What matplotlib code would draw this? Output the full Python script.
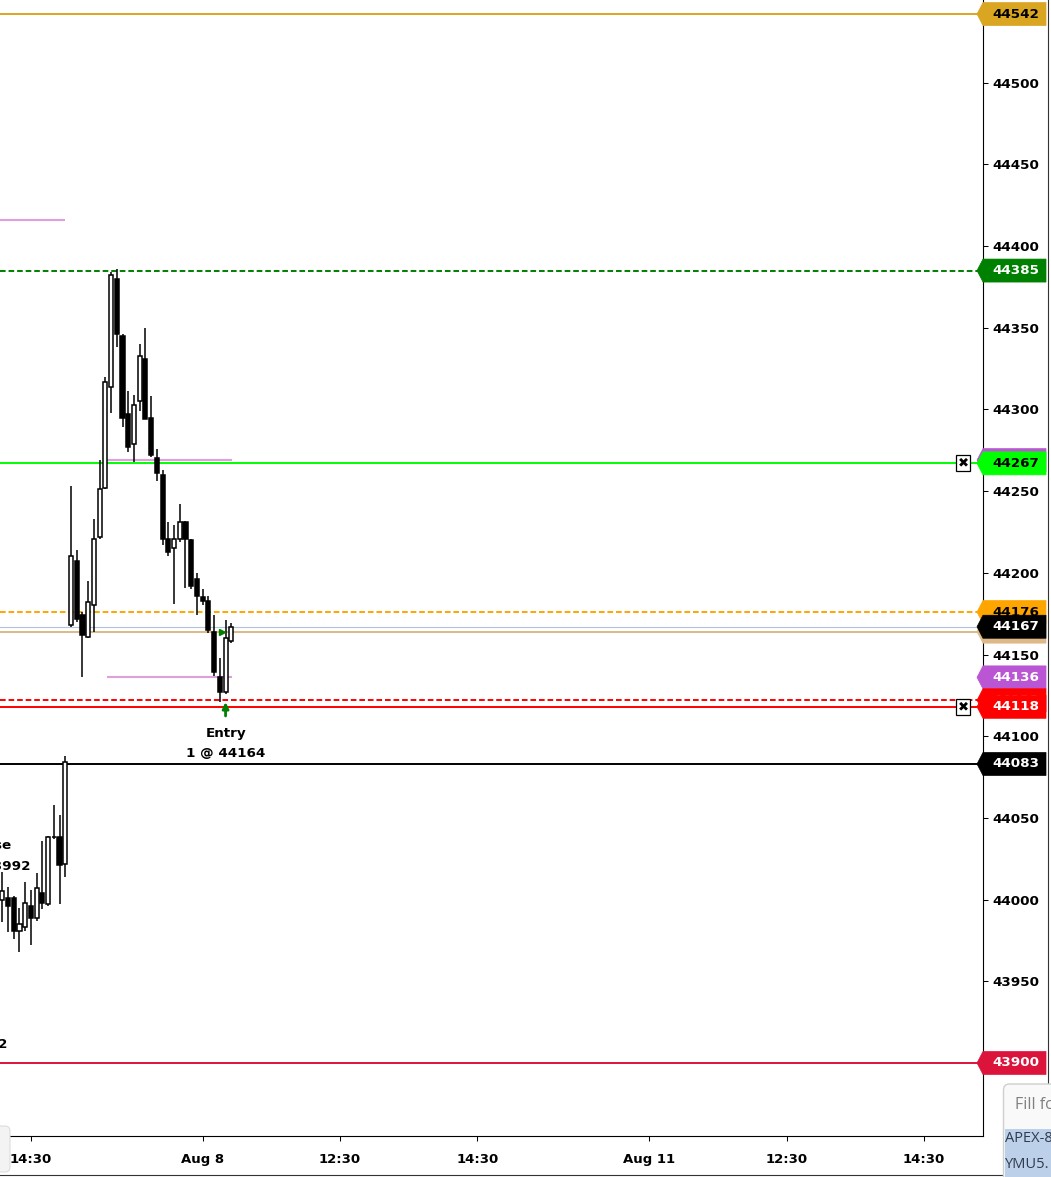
import numpy as np
import matplotlib.pyplot as plt
from matplotlib import transforms
from matplotlib.patches import Polygon, Rectangle, FancyBboxPatch
from matplotlib.lines import Line2D

plt.rcParams['font.family'] = ['DejaVu Sans']
plt.rcParams['font.weight'] = 'bold'

# 5 minute YM bars (index 0 = first visible bar)
opens = [44000, 44001, 44001, 43981, 43983, 43996, 43989, 44004, 43997, 44038, 44038, 44022,
         44168, 44207, 44174, 44161, 44180, 44222, 44252, 44314, 44380, 44345, 44297, 44279,
         44305, 44331, 44295, 44270, 44260, 44221, 44215, 44221, 44231, 44220, 44196, 44185,
         44183, 44164, 44136, 44127, 44158]
highs = [44017, 44008, 44002, 43995, 44011, 44006, 44016, 44036, 44039, 44058, 44052, 44088,
         44253, 44214, 44176, 44195, 44233, 44269, 44320, 44384, 44386, 44346, 44311, 44309,
         44340, 44350, 44308, 44276, 44263, 44231, 44229, 44242, 44232, 44221, 44200, 44190,
         44186, 44174, 44148, 44171, 44169]
lows = [43986, 43980, 43976, 43968, 43981, 43972, 43987, 43994, 43996, 44037, 43997, 44014,
        44167, 44170, 44136, 44160, 44164, 44221, 44251, 44298, 44338, 44289, 44274, 44268,
        44299, 44294, 44271, 44256, 44217, 44210, 44181, 44219, 44191, 44190, 44174, 44180,
        44163, 44137, 44121, 44126, 44157]
closes = [44005, 43996, 43981, 43985, 43998, 43989, 44007, 43998, 44038, 44038.5, 44021, 44084,
          44210, 44172, 44162, 44182, 44221, 44251, 44317, 44382, 44346, 44295, 44277, 44303,
          44333, 44294, 44272, 44261, 44221, 44213, 44221, 44231, 44221, 44192, 44186, 44183,
          44165, 44139, 44127, 44160, 44167]

tick_pos = [5, 35, 59, 83, 113, 137, 161]
tick_labels = ['14:30', 'Aug 8', '12:30', '14:30', 'Aug 11', '12:30', '14:30']

# horizontal price levels
level_prices = [44542, 44385, 44267, 44176, 44167, 44164, 44122, 44118, 44083, 43900]
level_colors = ['#DAA520', '#008000', '#00FF00', '#FFA500', '#B0C4DE', '#DEB887',
                '#FF0000', '#FF0000', '#000000', '#DC143C']
level_dashed = [False, True, False, True, False, False, True, False, False, False]

# price tags on the right axis (drawn in this order)
tag_prices = [44542, 44385, 44269, 44267, 44176, 44164, 44167, 44136, 44122, 44118, 44083, 43900]
tag_colors = ['#DAA520', '#008000', '#BA55D3', '#00FF00', '#FFA500', '#DEB887', '#000000',
              '#BA55D3', '#FF0000', '#FF0000', '#000000', '#DC143C']
tag_text = ['black', 'white', 'white', 'black', 'black', 'black', 'white',
            'white', 'white', 'white', 'white', 'white']

# short plum marker lines
plum_prices = [44416, 44269, 44136]
plum_start = [-0.4, 18.3, 18.3]
plum_end = [10.9, 40.1, 40.1]

entry_bar = 39
entry_price = 44164
close_bar = -2
close_price = 43992

W, H = 1051, 1177
fig = plt.figure(figsize=(W / 100, H / 100), dpi=100)
ax = fig.add_axes([0, 41 / H, 983 / W, 1136 / H])
ymin, ymax = 43855.3, 44550.6
ax.set_xlim(-0.4, 171.3)
ax.set_ylim(ymin, ymax)

x = np.arange(len(opens))
o = np.array(opens); c = np.array(closes)
up = c >= o
ax.vlines(x, lows, highs, color='black', lw=1.1, zorder=3)
bottoms = np.minimum(o, c)
heights = np.maximum(np.abs(c - o), 0.6)
ax.bar(x, heights, bottom=bottoms, width=0.72,
       color=np.where(up, 'white', 'black'), edgecolor='black', lw=1.1, zorder=4)

for p, col, d in zip(level_prices, level_colors, level_dashed):
    lw = 0.8 if col == '#B0C4DE' else 1.4
    ls = (0, (2.9, 1.5)) if d else '-'
    ax.axhline(p, color=col, lw=lw, ls=ls, zorder=2)

ax.hlines(plum_prices, plum_start, plum_end, color='#DDA0DD', lw=1.5, zorder=2)

# executions
ax.plot(entry_bar - 0.6, entry_price, marker='>', color='#008000', ms=4, zorder=5)
ax.annotate('', xy=(entry_bar, lows[entry_bar]), xytext=(0, -16), textcoords='offset points',
            arrowprops=dict(arrowstyle='-|>', color='#008000', lw=2, shrinkA=0, shrinkB=6,
                            mutation_scale=9), zorder=5)
ax.annotate('Entry', xy=(entry_bar, lows[entry_bar]), xytext=(0, -28.5), textcoords='offset points',
            ha='center', va='center', fontsize=9.7)
ax.annotate('1 @ %d' % entry_price, xy=(entry_bar, lows[entry_bar]), xytext=(0, -43),
            textcoords='offset points', ha='center', va='center', fontsize=9.7)
ax.annotate('Close', xy=(close_bar, close_price), xytext=(0, 48.5), textcoords='offset points',
            ha='center', va='center', fontsize=9.7, annotation_clip=False, clip_on=True)
ax.annotate('1 @ %d' % close_price, xy=(close_bar, close_price), xytext=(0, 33.5),
            textcoords='offset points', ha='center', va='center', fontsize=9.7,
            annotation_clip=False, clip_on=True)
ax.text(0.91, 43911.6, '1 @ 43912', ha='right', va='center', fontsize=9.7, clip_on=True)

# axes styling
for s in ['left', 'top']:
    ax.spines[s].set_visible(False)
for s in ['right', 'bottom']:
    ax.spines[s].set_linewidth(0.8)
ax.yaxis.tick_right()
ax.set_yticks(np.arange(43900, 44501, 50))
ax.tick_params(axis='y', direction='out', length=3.6, width=0.75, labelsize=9.7, pad=2.8)
ax.set_xticks(tick_pos, tick_labels)
ax.tick_params(axis='x', direction='out', length=3.6, width=0.75, labelsize=9.5, pad=8.5)

# price tags
tr = transforms.blended_transform_factory(fig.transFigure, ax.transData)
half = 11.5 / (1136 / (ymax - ymin))
for i, (p, fc, tc) in enumerate(zip(tag_prices, tag_colors, tag_text)):
    pts = [(977 / W, p), (983 / W, p - half), (1046 / W, p - half), (1046 / W, p + half), (983 / W, p + half)]
    ax.add_patch(Polygon(pts, closed=True, transform=tr, facecolor=fc, edgecolor=fc, lw=0.5,
                         clip_on=False, zorder=6 + 2 * i))
    ax.text(992 / W, p, str(p), transform=tr, color=tc, fontsize=9.7, ha='left', va='center',
            clip_on=False, zorder=7 + 2 * i)

for p in [44267, 44118]:
    ax.text(963 / W, p, '\u2716', transform=tr, ha='center', va='center', fontsize=9.5, color='black',
            bbox=dict(boxstyle='square,pad=0.12', fc='white', ec='black', lw=0.9), zorder=40)

# window frame and fill popup
fig.add_artist(Line2D([1047.7 / W, 1047.7 / W], [1, 1 - 1084 / H], color='#333333', lw=0.8))
fig.add_artist(Line2D([0, 1004 / W], [1 - 1175 / H, 1 - 1175 / H], color='#333333', lw=0.8))
inch = fig.dpi_scale_trans
fig.add_artist(FancyBboxPatch((-0.1, (H - 1172) / 100), 0.2, 0.46,
                              boxstyle='round,pad=0,rounding_size=0.05', transform=inch,
                              fc='#F3F3F3', ec='#DDDDDD', lw=0.8, zorder=10))
fig.add_artist(FancyBboxPatch((1003.5 / 100, -0.1), 0.8, (H - 1084) / 100 + 0.1,
                              boxstyle='round,pad=0,rounding_size=0.06', transform=inch,
                              fc='#F9F9F9', ec='#CFCFCF', lw=1, zorder=10))
fig.add_artist(Rectangle((1005 / 100, -0.05), 0.8, (H - 1129) / 100 + 0.05, transform=inch,
                         fc='#BCD0EA', ec='none', zorder=11))
fig.text(1015 / 100, (H - 1105) / 100, 'Fill fo', transform=inch, fontsize=11.5, color='#808080',
         fontweight='normal', family='Open Sans', va='center', zorder=12)
fig.text(1005 / 100, (H - 1139) / 100, 'APEX-8', transform=inch, fontsize=10.5, color='#2F3B4C',
         fontweight='normal', family='Open Sans', va='center', zorder=12)
fig.text(1005 / 100, (H - 1164) / 100, 'YMU5.', transform=inch, fontsize=10.5, color='#2F3B4C',
         fontweight='normal', family='Open Sans', va='center', zorder=12)

fig.savefig('out.png', dpi=100)
